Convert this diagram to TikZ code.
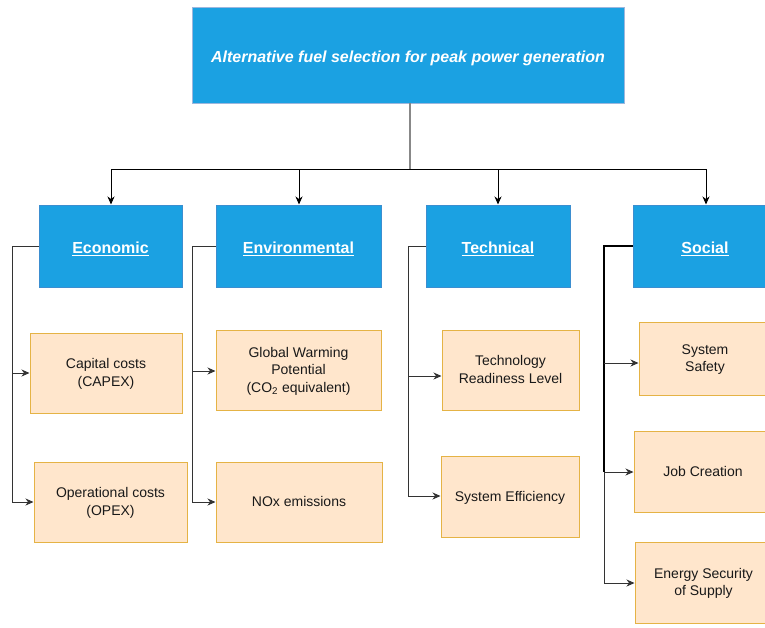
\documentclass[tikz,border=0pt]{standalone}
\usepackage{fontspec}
\setmainfont{Liberation Sans}
\usetikzlibrary{arrows.meta}

\definecolor{hdrblue}{HTML}{1BA1E2}
\definecolor{hdredge}{HTML}{3B8ED0}
\definecolor{topedge}{HTML}{9DB7DD}
\definecolor{leaffill}{HTML}{FFE6CC}
\definecolor{leafedge}{HTML}{E5B345}
\definecolor{wire}{HTML}{333333}
\definecolor{stem}{HTML}{888888}

% shift a label down without changing the box it reports
\newcommand{\lowered}[1]{\raisebox{-3pt}[\height][\depth]{#1}}

\tikzset{
  x=1pt, y=-1pt,
  rootbox/.style={draw=topedge, line width=0.8pt, fill=hdrblue, text=white,
    font=\fontsize{16}{19}\selectfont\bfseries\itshape, inner sep=0pt},
  catbox/.style={draw=hdredge, line width=0.8pt, fill=hdrblue, text=white,
    font=\fontsize{16}{19}\selectfont\bfseries, minimum height=82pt, inner sep=0pt},
  leaf/.style={draw=leafedge, line width=1pt, fill=leaffill, text=black!90,
    font=\fontsize{14}{17.5}\selectfont, align=center, minimum height=80pt,
    inner sep=0pt, text depth=1pt},
  tip/.style={-{Stealth[length=8pt,width=7pt,inset=2.5pt]}},
  feed/.style={tip, draw=black, line width=1pt},
  branch/.style={tip, draw=wire, line width=1pt},
}

\begin{document}
\begin{tikzpicture}
\useasboundingbox (0,0) rectangle (765,627);
\clip (0,0) rectangle (765,627);
\fill[white] (0,0) rectangle (765,627);

% root
\node[rootbox, minimum width=432pt, minimum height=96pt] (root) at (408,55)
  {\lowered{Alternative fuel selection for peak power generation}};

% criteria
\node[catbox, minimum width=143pt] (eco) at (110.5,246) {\lowered{\underline{Economic}}};
\node[catbox, minimum width=165pt] (env) at (298.5,246) {\lowered{\underline{Environmental}}};
\node[catbox, minimum width=144pt] (tec) at (498,246) {\lowered{\underline{Technical}}};
\node[catbox, minimum width=144pt] (soc) at (705,246) {\lowered{\underline{Social}}};

% sub-criteria
\node[leaf, minimum width=152pt] (capex) at (106,373) {Capital costs\\(CAPEX)};
\node[leaf, minimum width=153pt] (opex) at (110.5,502) {Operational costs\\(OPEX)};
\node[leaf, minimum width=165pt] (gwp) at (298.5,370) {Global Warming\\Potential\\(CO\textsubscript{2} equivalent)};
\node[leaf, minimum width=166pt] (nox) at (299,502) {NOx emissions};
\node[leaf, minimum width=137pt] (trl) at (510.5,370) {Technology\\Readiness Level};
\node[leaf, minimum width=138pt, minimum height=81pt] (eff) at (510,496.5) {System Efficiency};
\node[leaf, minimum width=132pt, minimum height=73pt] (safe) at (705,358.5) {System\\Safety};
\node[leaf, minimum width=138pt, minimum height=81pt] (job) at (703,471.5) {Job Creation};
\node[leaf, minimum width=137pt, minimum height=81pt] (nrg) at (703.5,582.5) {Energy Security\\of Supply};

% root to criteria
\coordinate (hub) at (410,169);
\draw[draw=stem, line width=1.2pt] (root.south -| hub) -- (hub);
\draw[line width=1pt] (111,169) -- (706,169);
\foreach \c/\xx in {eco/111, env/299, tec/498, soc/706}
  \draw[feed] (\xx,169) -- (\xx,204.5);

% criteria to sub-criteria
\draw[branch] (eco.west) -| (12,373) -- (capex.west);
\draw[branch] (12,373) |- (opex.west);

\draw[branch] (env.west) -| (192,371) -- ([yshift=-1pt]gwp.west);
\draw[branch] (192,371) |- (nox.west);

\draw[branch] (tec.west) -| (408,376) -- ([yshift=-6pt]trl.west);
\draw[branch] (408,376) |- ([yshift=0.5pt]eff.west);

\coordinate (sbus) at (604,472);
\draw[draw=black, line width=1.4pt] (soc.west) -| (sbus);
\draw[branch] (604,363) -- ([yshift=-4.5pt]safe.west);
\draw[branch] (sbus) -- ([yshift=-0.5pt]job.west);
\draw[branch] (sbus) |- ([yshift=-0.5pt]nrg.west);
\end{tikzpicture}
\end{document}
